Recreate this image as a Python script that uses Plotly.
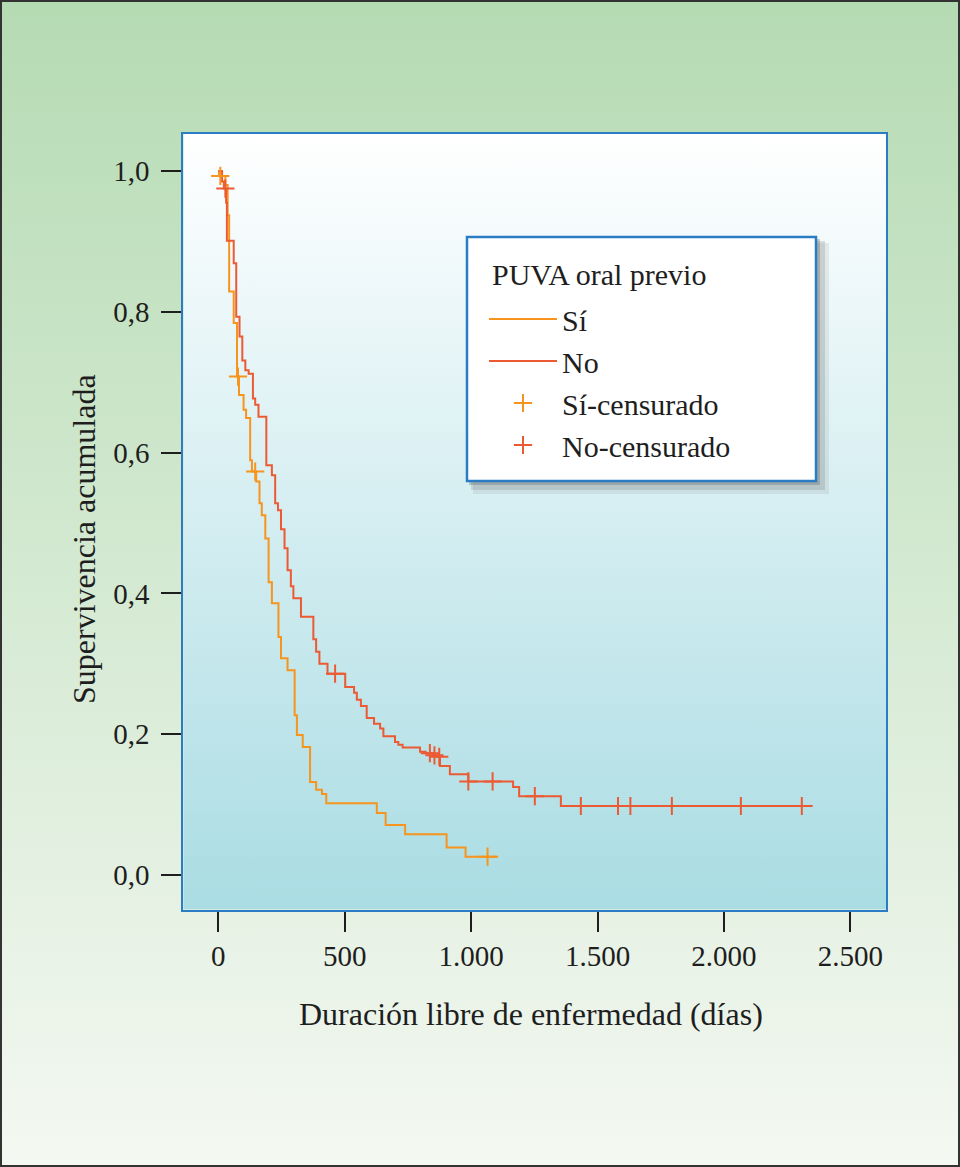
import base64
import plotly.graph_objects as go

# Curvas de Kaplan-Meier
dias_si = [0, 3, 28, 37, 43, 61, 74, 82, 100, 110, 126, 133, 150, 163, 172, 186, 199, 212,
           238, 248, 274, 302, 311, 334, 363, 387, 410, 427, 627, 662, 739, 903, 978, 1107]
superv_si = [1.0, 0.993, 0.980, 0.937, 0.829, 0.784, 0.708, 0.682, 0.661, 0.649, 0.589, 0.573,
             0.559, 0.528, 0.511, 0.478, 0.416, 0.386, 0.338, 0.308, 0.291, 0.227, 0.199, 0.182,
             0.132, 0.121, 0.115, 0.102, 0.088, 0.071, 0.058, 0.039, 0.026, 0.026]

dias_no = [0, 15, 22, 31, 34, 61, 71, 84, 95, 107, 120, 137, 146, 159, 190, 212, 225, 236, 248,
           262, 274, 287, 297, 327, 376, 387, 400, 432, 502, 537, 548, 564, 587, 616, 640, 653,
           699, 712, 729, 798, 820, 850, 865, 877, 916, 989, 1166, 1190, 1355, 2351]
superv_no = [1.0, 0.985, 0.975, 0.955, 0.901, 0.869, 0.793, 0.765, 0.731, 0.717, 0.712, 0.677,
             0.668, 0.651, 0.582, 0.568, 0.528, 0.518, 0.491, 0.464, 0.433, 0.410, 0.393, 0.367,
             0.335, 0.317, 0.300, 0.286, 0.267, 0.259, 0.249, 0.240, 0.223, 0.215, 0.208, 0.197,
             0.189, 0.185, 0.181, 0.175, 0.173, 0.170, 0.168, 0.155, 0.143, 0.133, 0.125, 0.112,
             0.098, 0.098]

# Censurados
cens_dias_si = [8, 78, 146, 1065]
cens_superv_si = [0.993, 0.708, 0.573, 0.026]

cens_dias_no = [28, 462, 837, 855, 874, 989, 1085, 1252, 1434, 1581, 1630, 1794, 2067, 2308]
cens_superv_no = [0.975, 0.286, 0.173, 0.170, 0.168, 0.133, 0.133, 0.112, 0.098, 0.098, 0.098,
                  0.098, 0.098, 0.098]

naranja = '#f7941d'
rojo = '#ec5a33'
azul = '#2a7dc4'
texto = '#1e1e1e'
fuente = 'Liberation Serif'
W, H = 960, 1167


def gradiente(c1, c2):
    svg = ('<svg xmlns="http://www.w3.org/2000/svg" width="100" height="100" preserveAspectRatio="none">'
           '<defs><linearGradient id="g" x1="0" y1="0" x2="0" y2="1">'
           f'<stop offset="0" stop-color="{c1}"/><stop offset="1" stop-color="{c2}"/>'
           '</linearGradient></defs><rect width="100" height="100" fill="url(#g)"/></svg>')
    return 'data:image/svg+xml;base64,' + base64.b64encode(svg.encode()).decode()


def px(x0, y0, x1, y1):
    # pixeles de la figura -> coordenadas paper
    return dict(xref='paper', yref='paper', x0=x0 / W, x1=x1 / W, y0=1 - y1 / H, y1=1 - y0 / H)


fig = go.Figure()
fig.add_trace(go.Scatter(x=dias_si, y=superv_si, mode='lines', line=dict(color=naranja, width=2, shape='hv'),
                         name='Sí'))
fig.add_trace(go.Scatter(x=dias_no, y=superv_no, mode='lines', line=dict(color=rojo, width=2, shape='hv'),
                         name='No'))
fig.add_trace(go.Scatter(x=cens_dias_si, y=cens_superv_si, mode='markers', name='Sí-censurado',
                         marker=dict(symbol='cross-thin', size=13, line=dict(color=naranja, width=2))))
fig.add_trace(go.Scatter(x=cens_dias_no, y=cens_superv_no, mode='markers', name='No-censurado',
                         marker=dict(symbol='cross-thin', size=13, line=dict(color=rojo, width=2))))

fig.update_xaxes(domain=[183.3 / W, 886 / W], range=[-138.4, 2641], tickvals=[0, 500, 1000, 1500, 2000, 2500],
                 tickformat=',d', showgrid=False, zeroline=False, showline=True, mirror=True, linecolor=azul,
                 linewidth=2, ticks='outside', ticklen=20, tickwidth=1.5, tickcolor=texto,
                 tickfont=dict(family=fuente, size=29, color=texto), automargin=False)
fig.update_yaxes(domain=[1 - 909.5 / H, 1 - 133.5 / H], range=[-0.049, 1.0533], tickvals=[0, 0.2, 0.4, 0.6, 0.8, 1.0],
                 tickformat='.1f', showgrid=False, zeroline=False, showline=True, mirror=True, linecolor=azul,
                 linewidth=2, ticks='outside', ticklen=20, tickwidth=1.5, tickcolor=texto,
                 tickfont=dict(family=fuente, size=29, color=texto), ticklabelstandoff=6, automargin=False)

# titulos de ejes
fig.add_annotation(text='Supervivencia acumulada', xref='paper', yref='paper', x=84 / W, y=1 - 539 / H,
                   xanchor='center', yanchor='middle', textangle=-90, showarrow=False,
                   font=dict(family=fuente, size=32, color=texto))
fig.add_annotation(text='Duración libre de enfermedad (días)', xref='paper', yref='paper', x=531 / W,
                   y=1 - 1014 / H, xanchor='center', yanchor='middle', showarrow=False,
                   font=dict(family=fuente, size=32, color=texto))

# fondos degradados
fig.add_layout_image(source=gradiente('#b5dbb3', '#f4f8f2'), xref='paper', yref='paper', x=0, y=1,
                     sizex=1, sizey=1, xanchor='left', yanchor='top', sizing='stretch', layer='below')
fig.add_layout_image(source=gradiente('#ffffff', '#a9dce3'), xref='x domain', yref='y domain', x=0, y=1,
                     sizex=1, sizey=1, xanchor='left', yanchor='top', sizing='stretch', layer='below')

# caja de la leyenda con sombra
fig.add_shape(type='rect', **px(473, 243, 829, 494), fillcolor='rgba(90,90,90,0.10)', line_width=0)
fig.add_shape(type='rect', **px(471, 241, 825, 490), fillcolor='rgba(90,90,90,0.18)', line_width=0)
fig.add_shape(type='rect', **px(469, 239, 820, 485), fillcolor='rgba(90,90,90,0.30)', line_width=0)
fig.add_shape(type='rect', **px(467, 237, 816, 481), fillcolor='white', line=dict(color=azul, width=2.5))
fig.add_annotation(text='PUVA oral previo', xref='paper', yref='paper', x=490 / W, y=1 - 275 / H,
                   xanchor='left', yanchor='middle', showarrow=False,
                   font=dict(family=fuente, size=30, color=texto))

# marco exterior
fig.add_shape(type='rect', **px(1, 1, W - 1, H - 1), line=dict(color='#333', width=2))

fig.update_layout(
    width=W, height=H, autosize=False,
    margin=dict(l=0, r=0, t=0, b=0),
    separators=',.',
    paper_bgcolor='white', plot_bgcolor='rgba(0,0,0,0)',
    showlegend=True,
    legend=dict(x=484 / W, y=1 - 293 / H, xanchor='left', yanchor='top', bgcolor='rgba(0,0,0,0)',
                borderwidth=0, itemwidth=68, tracegroupgap=0,
                font=dict(family=fuente, size=30, color=texto)),
)

fig.write_html('out.html', config={'displayModeBar': False},
               post_script="document.body.style.margin='0';")
